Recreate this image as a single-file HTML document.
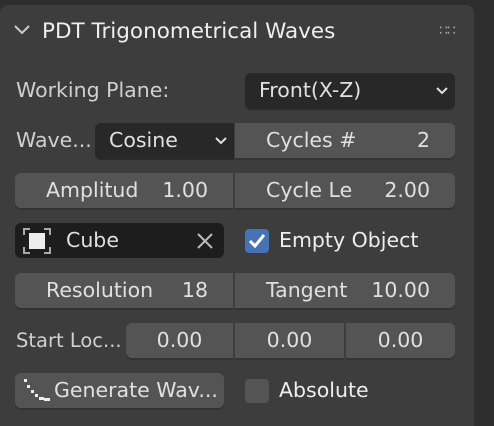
<!DOCTYPE html>
<html style="overflow:hidden;width:494px;height:426px"><head><meta charset="utf-8"><style>
body{margin:0;width:494px;height:426px;background:#2e2e2e;overflow:hidden;font-family:"DejaVu Sans","Liberation Sans",sans-serif;color:#e0e0e0;position:relative}
.panel{position:absolute;left:0;top:5px;width:474px;height:421px;background:#3d3d3d;border-radius:8px 8px 0 0}
.a{position:absolute;box-sizing:border-box;font-size:20.5px;line-height:35px;white-space:nowrap}
.lbl{height:35px}
.dd{background:#282828;border-radius:6px;height:35px;box-shadow:0 2px 0 #2a2a2a}
.btn{background:#545454;height:35px;box-shadow:0 2px 0 #333}
.l{border-radius:6px 0 0 6px}.r{border-radius:0 6px 6px 0}.m{border-radius:0}
.ctr{text-align:center}
.chev{position:absolute;right:6px;top:13px}
</style></head><body>
<div class="panel"></div>
<svg style="position:absolute;left:13px;top:24px" width="18" height="12"><polyline points="2,2 9,9 16,2" fill="none" stroke="#ccc" stroke-width="2"/></svg>
<div class="a" style="left:42px;top:14px;font-size:21.5px;color:#eee">PDT Trigonometrical Waves</div>
<div class="a" style="left:439px;top:14px;font-size:14px;color:#aaa;letter-spacing:-1px">∷∷</div>

<div class="a lbl" style="left:16px;top:73px;color:#d0d0d0">Working Plane:</div>
<div class="a dd" style="left:245px;top:73px;width:210px;padding-left:14px">Front(X-Z)<svg class="chev" width="14" height="10"><polyline points="2,2 7,7 12,2" fill="none" stroke="#ddd" stroke-width="2"/></svg></div>

<div class="a lbl" style="left:16px;top:123px;color:#d0d0d0">Wave...</div>
<div class="a dd l" style="left:95px;top:123px;width:139px;padding-left:14px">Cosine<svg class="chev" width="14" height="10"><polyline points="2,2 7,7 12,2" fill="none" stroke="#ddd" stroke-width="2"/></svg></div>
<div class="a btn r" style="left:235px;top:123px;width:220px;padding-left:31px">Cycles #<span style="position:absolute;right:25px">2</span></div>

<div class="a btn l" style="left:15px;top:173px;width:218px;padding-left:31px">Amplitud<span style="position:absolute;right:25px">1.00</span></div>
<div class="a btn r" style="left:235px;top:173px;width:220px;padding-left:31px">Cycle Le<span style="position:absolute;right:25px">2.00</span></div>

<div class="a" style="left:15px;top:223px;width:209px;height:35px;background:#1d1d1d;border-radius:6px;padding-left:51px">Cube<svg style="position:absolute;right:11px;top:10px" width="16" height="16"><path d="M1 1L15 15M15 1L1 15" stroke="#bbb" stroke-width="2"/></svg></div>
<svg style="position:absolute;left:23px;top:228px" width="28" height="26"><path d="M1 7V1h6M21 1h6v6M27 19v6h-6M7 25H1v-6" fill="none" stroke="#aaa" stroke-width="2"/><rect x="6" y="5" width="16" height="16" fill="#eee"/></svg>
<div style="position:absolute;left:245px;top:229px;width:24px;height:24px;background:#4772b3;border-radius:4px"><svg width="24" height="24"><polyline points="5,12 10,17 19,6" fill="none" stroke="#fff" stroke-width="3"/></svg></div>
<div class="a lbl" style="left:279px;top:223px;color:#eee">Empty Object</div>

<div class="a btn l" style="left:15px;top:273px;width:218px;padding-left:31px">Resolution<span style="position:absolute;right:25px">18</span></div>
<div class="a btn r" style="left:235px;top:273px;width:220px;padding-left:31px">Tangent<span style="position:absolute;right:25px">10.00</span></div>

<div class="a lbl" style="left:16px;top:323px;color:#d0d0d0;font-size:19.5px">Start Loc...</div>
<div class="a btn l ctr" style="left:126px;top:323px;width:107px">0.00</div>
<div class="a btn m ctr" style="left:235px;top:323px;width:109px">0.00</div>
<div class="a btn r ctr" style="left:346px;top:323px;width:109px">0.00</div>

<div class="a btn" style="left:15px;top:373px;width:209px;border-radius:6px;padding-left:39px">Generate Wav...</div>
<svg style="position:absolute;left:22px;top:377px" width="30" height="30"><g fill="#eee"><rect x="2" y="2" width="3" height="3"/><rect x="5" y="8" width="3" height="3"/><rect x="9" y="13" width="3" height="3"/><rect x="13" y="17" width="3" height="3"/><rect x="17" y="20" width="5" height="3"/><rect x="22" y="21" width="6" height="3"/></g></svg>
<div style="position:absolute;left:245px;top:379px;width:24px;height:24px;background:#545454;border-radius:4px"></div>
<div class="a lbl" style="left:279px;top:373px;color:#eee">Absolute</div>
</body></html>
